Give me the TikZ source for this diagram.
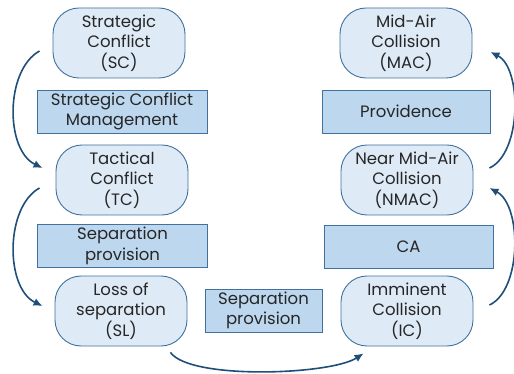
\documentclass[tikz,border=0pt]{standalone}
\usepackage{fontspec}
\setmainfont{Poppins}
\usetikzlibrary{positioning}
\usetikzlibrary{calc}
\usetikzlibrary{arrows.meta}
\definecolor{eventfill}{RGB}{222,234,246}
\definecolor{eventline}{RGB}{65,113,156}
\definecolor{layerfill}{RGB}{189,215,238}
\definecolor{layerline}{RGB}{65,113,156}
\definecolor{flow}{RGB}{31,78,121}
\tikzset{
    event/.style = {rectangle, rounded corners=26pt, draw=eventline, fill=eventfill, line width=0.9pt,
        minimum width=132pt, minimum height=70pt, align=center, inner sep=2pt,
        text=black!85, font=\fontsize{16.5}{20.5}\selectfont},
    layer/.style = {rectangle, draw=layerline, fill=layerfill, line width=0.9pt,
        minimum width=170pt, minimum height=43pt, align=center, inner sep=2pt,
        text=black!85, font=\fontsize{16.5}{20.5}\selectfont},
    flowarrow/.style = {draw=flow, line width=1.6pt, -{Latex[length=9pt,width=8pt]}}}

\begin{document}
\begin{tikzpicture}[x=1pt,y=-1pt]
        \useasboundingbox (0,0) rectangle (514,374);
        % left column
        \node[event] (SC) at (119,43) {Strategic\\Conflict\\(SC)};
        \node[layer] (SCM) at (122,111.5) {Strategic Conflict\\Management};
        \node[event] (TC) at (122,180) {Tactical\\Conflict\\(TC)};
        \node[layer] (SP) at (122.5,246) {Separation\\provision};
        \node[event] (SL) at (121,311) {Loss of\\separation\\(SL)};
        % bottom middle
        \node[layer, minimum width=117pt] (SP2) at (263.5,310.5) {Separation\\provision};
        % right column
        \node[event] (MAC) at (406,43) {Mid-Air\\Collision\\(MAC)};
        \node[layer, minimum width=168pt] (PR) at (406,111.5) {Providence};
        \node[event] (NMAC) at (407,180) {Near Mid-Air\\Collision\\(NMAC)};
        \node[layer, minimum width=169pt] (CA) at (408.5,246.5) {CA};
        \node[event] (IC) at (407,311) {Imminent\\Collision\\(IC)};
        % transitions
        \draw[flowarrow] ($(SC.west)+(-13,8)$) .. controls (5,70) and (5,150) .. ($(TC.west)+(-13,-12)$);
        \draw[flowarrow] ($(TC.west)+(-16,8)$) .. controls (5,207) and (5,288) .. ($(SL.west)+(-12,-5)$);
        \draw[flowarrow] ($(SL.south east)+(-17,6)$) .. controls (190,380) and (330,375) .. ($(IC.south west)+(23,7)$);
        \draw[flowarrow] ($(IC.east)+(16,-6)$) .. controls (522,290) and (522,205) .. ($(NMAC.east)+(16,8)$);
        \draw[flowarrow] ($(NMAC.east)+(16,-12)$) .. controls (522,153) and (522,68) .. ($(MAC.east)+(18,9)$);
\end{tikzpicture}
\end{document}
